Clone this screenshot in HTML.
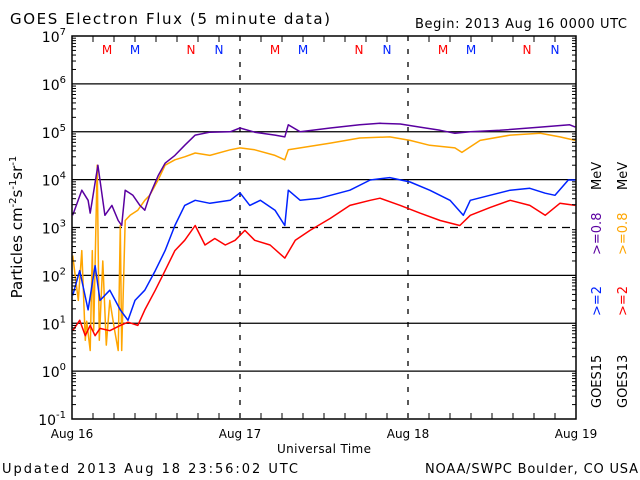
<!DOCTYPE html>
<html><head><meta charset="utf-8"><style>
body{margin:0;background:#fff;}
svg{display:block;font-family:"DejaVu Sans","Liberation Sans",sans-serif;}
</style></head><body>
<svg id="chart" width="640" height="480" viewBox="0 0 640 480">
<text x="10" y="24" font-size="15" textLength="320" lengthAdjust="spacing">GOES Electron Flux (5 minute data)</text>
<text x="415" y="28" font-size="13" textLength="212" lengthAdjust="spacing">Begin: 2013 Aug 16 0000 UTC</text>
<text transform="translate(22,227) rotate(-90)" font-size="15" text-anchor="middle">Particles cm<tspan dy="-6" font-size="10">-2</tspan><tspan dy="6">s</tspan><tspan dy="-6" font-size="10">-1</tspan><tspan dy="6">sr</tspan><tspan dy="-6" font-size="10">-1</tspan></text>
<text x="277" y="453" font-size="12" textLength="94" lengthAdjust="spacing">Universal Time</text>
<text x="2" y="473" font-size="13" textLength="296" lengthAdjust="spacing">Updated 2013 Aug 18 23:56:02 UTC</text>
<text x="425" y="473" font-size="13" textLength="213" lengthAdjust="spacing">NOAA/SWPC Boulder, CO USA</text>
<g font-size="13">
<text transform="translate(601,408) rotate(-90)" fill="#000">GOES15</text>
<text transform="translate(627,408) rotate(-90)" fill="#000">GOES13</text>
<text transform="translate(601,316) rotate(-90)" fill="#0022ff">&gt;=2</text>
<text transform="translate(627,316) rotate(-90)" fill="#ff0000">&gt;=2</text>
<text transform="translate(601,255) rotate(-90)" fill="#5a00a0">&gt;=0.8</text>
<text transform="translate(627,255) rotate(-90)" fill="#ffa500">&gt;=0.8</text>
<text transform="translate(601,190) rotate(-90)" fill="#000">MeV</text>
<text transform="translate(627,190) rotate(-90)" fill="#000">MeV</text>
</g>
<g id="grid"></g><g id="series"></g><g id="axes"></g>
</svg>
<script>
const p15hrs=[0.1,1.4,2.3,2.6,3.7,4.7,5.7,6.6,7.1,7.6,8.7,9.7,10.4,11.1,12.3,13.3,14.7,16.1,17.6,19.7,22.6,24,26.1,29,30.4,30.9,32.6,36.9,41.1,44,46.9,49.7,52.6,54.7,56.9,61.1,66.9,71.1,71.9];
const p15vals=[1800,6000,3700,2000,20000,1800,2900,1400,1100,6000,4700,2900,2300,4700,12000,22000,32000,52000,85000,98000,100000,120000,98000,85000,78000,140000,100000,120000,140000,150000,145000,125000,107000,93000,100000,107000,125000,140000,125000];
const o13hrs=[0.1,0.9,1.4,1.9,2.1,2.6,2.9,3.1,3.6,3.9,4.4,4.9,5.4,6.1,6.6,6.9,7.1,7.6,8.3,9.4,10.4,11.1,12.3,13.3,14.7,16.1,17.6,19.7,22.6,24,26.1,29,30.4,30.9,32.6,36.9,41.1,45.4,48.3,51.1,54.7,55.7,58.3,62.6,66.9,69.7,71.9];
const o13vals=[260,30,330,4.4,11,2.7,330,7,20000,4.4,200,3.5,30,7,2.7,1100,2.7,1400,1800,2300,3700,4700,9800,20000,26000,30000,36000,32000,42000,46000,42000,32000,26000,42000,46000,58000,74000,78000,66000,52000,46000,37000,66000,85000,93000,78000,66000];
const b15hrs=[0.1,1.1,2.3,3.3,4,5.4,6.9,8,9,10.4,11.9,13.3,14.7,16.1,17.6,19.7,22.6,24,25.4,26.9,29,30.4,30.9,32.6,35.4,39.7,42.6,45.4,48.3,51.1,54,55.9,56.9,59.7,62.6,65.4,67.6,69,70.9,71.9];
const b15vals=[38,126,19,160,30,49,19,11.5,30,49,126,330,1100,2900,3700,3200,3700,5300,2900,3700,2300,1100,6000,3700,4100,6000,9800,11000,8900,6000,3700,1800,3700,4700,6000,6600,5200,4700,9800,9800];
const r13hrs=[0.1,1.1,1.9,2.6,3.3,4,5.4,6.9,8,9.4,10.4,11.9,13.3,14.7,16.1,17.6,19,20.4,21.9,23.3,24.7,26.1,28.3,30.4,31.9,34,36.9,39.7,42.6,44,46.9,49.7,52.6,55.4,56.9,59.7,62.6,65.4,67.6,69.7,71.9];
const r13vals=[7,11.5,5.5,9,5.5,7.8,7,9,10.5,9,19,49,126,330,540,1100,430,590,430,540,870,540,430,230,540,870,1550,2900,3700,4100,2900,2000,1400,1100,1800,2600,3700,2900,1800,3200,2900];
const yTickExps=[7,6,5,4,3,2,1,0,-1];
const xTickLabels=["Aug 16","Aug 17","Aug 18","Aug 19"];
const markerLabels=["M","M","N","N","M","M","N","N","M","M","N","N"];
const markerHours=[5,9,17,21,29,33,41,45,53,57,65,69];

const X0=72,X1=576,Y0=36,Y1=419,NS="http://www.w3.org/2000/svg";
const xs=h=>X0+(X1-X0)*h/72;
const ys=v=>Y0+(7-Math.log10(v))*(Y1-Y0)/8;
const ye=e=>Y0+(7-e)*(Y1-Y0)/8;
function mk(tag,attrs,parent){const e=document.createElementNS(NS,tag);for(const k in attrs)e.setAttribute(k,attrs[k]);parent.appendChild(e);return e;}
const grid=document.getElementById('grid'),ser=document.getElementById('series'),ax=document.getElementById('axes');
yTickExps.forEach(e=>{
  if(e===7||e===-1)return;
  const l=mk('line',{x1:X0,x2:X1,y1:ye(e),y2:ye(e),stroke:'#000','stroke-width':1.3,'stroke-dasharray':e===3?'8,6':'none'},grid);
  
  
});
[1,2].forEach(d=>{
  const l=mk('line',{x1:xs(d*24),x2:xs(d*24),y1:Y0,y2:Y1,stroke:'#000','stroke-width':1.3,'stroke-dasharray':'5,8'},grid);
  
  
});
function series(h,v,color,name){
  const d=h.map((t,i)=>(i?'L':'M')+xs(t).toFixed(1)+','+ys(v[i]).toFixed(1)).join('');
  const p=mk('path',{d:d,fill:'none',stroke:color,'stroke-width':1.5,'stroke-linejoin':'round'},ser);
  
  
}
series(o13hrs,o13vals,'#ffa500','goes13-08mev-line');
series(r13hrs,r13vals,'#ff0000','goes13-2mev-line');
series(b15hrs,b15vals,'#0022ff','goes15-2mev-line');
series(p15hrs,p15vals,'#5a00a0','goes15-08mev-line');
const frame=mk('rect',{x:X0,y:Y0,width:X1-X0,height:Y1-Y0,fill:'none',stroke:'#000','stroke-width':1.5},ax);


yTickExps.forEach(e=>{
  const y=ye(e);
  const t=mk('text',{x:X0-6,y:y+6,'font-size':14,'text-anchor':'end'},ax);
  t.innerHTML='10<tspan dy="-7" font-size="10">'+e+'</tspan>';
  
  
  if(e>-1){for(let m=2;m<10;m++){const ym=ye(e-1)-Math.log10(m)*(Y1-Y0)/8;
    mk('line',{x1:X0,x2:X0+4,y1:ym,y2:ym,stroke:'#000'},ax);mk('line',{x1:X1-4,x2:X1,y1:ym,y2:ym,stroke:'#000'},ax);}}
});
for(let h=3;h<72;h+=3){if(h%24===0)continue;mk('line',{x1:xs(h),x2:xs(h),y1:Y1,y2:Y1-6,stroke:'#000'},ax);mk('line',{x1:xs(h),x2:xs(h),y1:Y0,y2:Y0+6,stroke:'#000'},ax);}
xTickLabels.forEach((s,i)=>{
  const t=mk('text',{x:xs(i*24),y:438,'font-size':12,'text-anchor':'middle'},ax);
  t.textContent=s;
  
  
});
markerLabels.forEach((s,i)=>{
  const t=mk('text',{x:xs(markerHours[i]),y:54,'font-size':12,'text-anchor':'middle',fill:i%2?'#0022ff':'#ff0000'},ax);
  t.textContent=s;
  
  
});
</script>
</body></html>
